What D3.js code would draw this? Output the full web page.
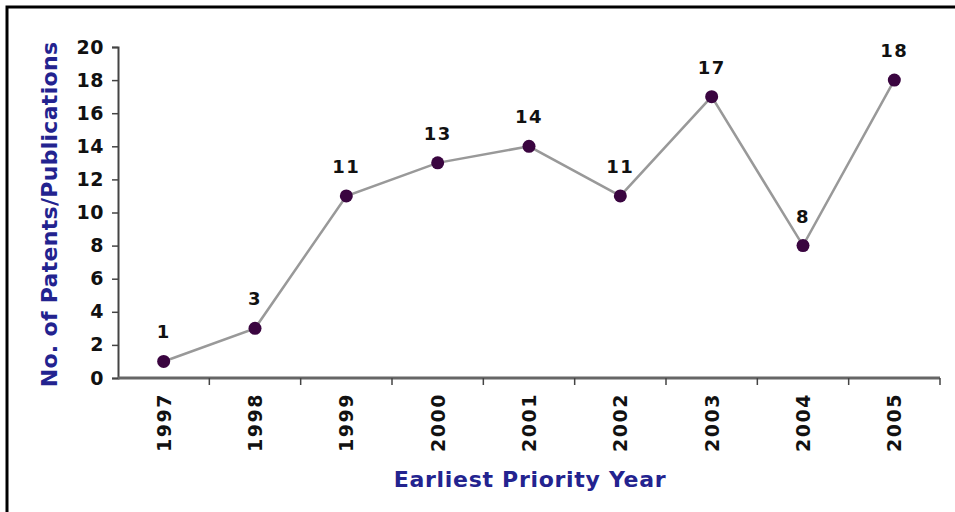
<!DOCTYPE html>
<html>
<head>
<meta charset="utf-8">
<script src="https://cdn.jsdelivr.net/npm/d3@7"></script>
<style>
  body { margin: 0; background: #fff; }
  text { font-family: "DejaVu Sans", Verdana, sans-serif; font-weight: bold; }
</style>
</head>
<body>
<div class="chart"></div>
<script>
const years = ['1997', '1998', '1999', '2000', '2001', '2002', '2003', '2004', '2005'];
const counts = [1, 3, 11, 13, 14, 11, 17, 8, 18];
const yTicks = [0, 2, 4, 6, 8, 10, 12, 14, 16, 18, 20];

const width = 955;
const height = 512;
const margin = {top: 47, right: 15, bottom: 134, left: 118};

const svg = d3
    .select('div.chart')
    .append('svg')
    .attr('width', width)
    .attr('height', height);

// outer frame (left and top edges visible)
svg.append('path')
    .attr('d', 'M7,512 V7 H955')
    .attr('fill', 'none')
    .attr('stroke', '#000')
    .attr('stroke-width', 3);

const x = d3.scaleBand()
    .domain(years)
    .range([margin.left, width - margin.right])
    .padding(0);

const y = d3.scaleLinear()
    .domain([0, 20])
    .range([height - margin.bottom, margin.top]);

// y axis
const yAxis = svg.append('g')
    .attr('transform', 'translate(' + margin.left + ',0)')
    .call(d3.axisLeft(y).tickValues(yTicks).tickSize(6).tickPadding(8));
yAxis.select('.domain').attr('stroke', '#444').attr('stroke-width', 2);
yAxis.selectAll('.tick line').attr('stroke', '#444').attr('stroke-width', 1.5);
yAxis.selectAll('.tick text')
    .attr('font-size', 19)
    .attr('letter-spacing', 0.5)
    .attr('fill', '#111')
    .attr('font-family', '"DejaVu Sans", Verdana, sans-serif')
    .attr('font-weight', 'bold');

// x axis line with ticks between categories
const x0 = margin.left;
const x1 = width - margin.right;
const yBase = y(0);
svg.append('line')
    .attr('x1', x0).attr('x2', x1)
    .attr('y1', yBase).attr('y2', yBase)
    .attr('stroke', '#666').attr('stroke-width', 3);
svg.selectAll('.xtick')
    .data(years.slice(1).concat(['end']))
    .enter()
    .append('line')
    .attr('class', 'xtick')
    .attr('x1', function(d) { return d === 'end' ? x1 : x(d); })
    .attr('x2', function(d) { return d === 'end' ? x1 : x(d); })
    .attr('y1', yBase)
    .attr('y2', yBase + 7)
    .attr('stroke', '#444')
    .attr('stroke-width', 1.5);

svg.selectAll('.xlabel')
    .data(years)
    .enter()
    .append('text')
    .attr('class', 'xlabel')
    .attr('transform', function(d) {
      return 'translate(' + (x(d) + x.bandwidth() / 2 + 7) + ',' + (yBase + 15) + ') rotate(-90)';
    })
    .attr('text-anchor', 'end')
    .attr('font-size', 19)
    .attr('letter-spacing', 1.5)
    .attr('fill', '#111')
    .text(function(d) { return d; });

// line
const line = d3.line()
    .x(function(d, i) { return x(years[i]) + x.bandwidth() / 2; })
    .y(function(d) { return y(d); });

svg.append('path')
    .datum(counts)
    .attr('d', line)
    .attr('fill', 'none')
    .attr('stroke', '#999')
    .attr('stroke-width', 2.5);

svg.selectAll('circle')
    .data(counts)
    .enter()
    .append('circle')
    .attr('cx', function(d, i) { return x(years[i]) + x.bandwidth() / 2; })
    .attr('cy', function(d) { return y(d); })
    .attr('r', 6.5)
    .attr('fill', '#3a0540');

svg.selectAll('.vlabel')
    .data(counts)
    .enter()
    .append('text')
    .attr('class', 'vlabel')
    .attr('x', function(d, i) { return x(years[i]) + x.bandwidth() / 2; })
    .attr('y', function(d) { return y(d) - 23; })
    .attr('text-anchor', 'middle')
    .attr('font-size', 18)
    .attr('letter-spacing', 1.5)
    .attr('fill', '#111')
    .text(function(d) { return d; });

// axis titles
svg.append('text')
    .attr('transform', 'translate(57,' + ((y(0) + y(20)) / 2 + 2) + ') rotate(-90)')
    .attr('text-anchor', 'middle')
    .attr('font-size', 22)
    .attr('letter-spacing', 0.3)
    .attr('fill', '#23238f')
    .text('No. of Patents/Publications');

svg.append('text')
    .attr('x', 530)
    .attr('y', 487)
    .attr('text-anchor', 'middle')
    .attr('font-size', 22)
    .attr('letter-spacing', 0.7)
    .attr('fill', '#23238f')
    .text('Earliest Priority Year');
</script>
</body>
</html>
